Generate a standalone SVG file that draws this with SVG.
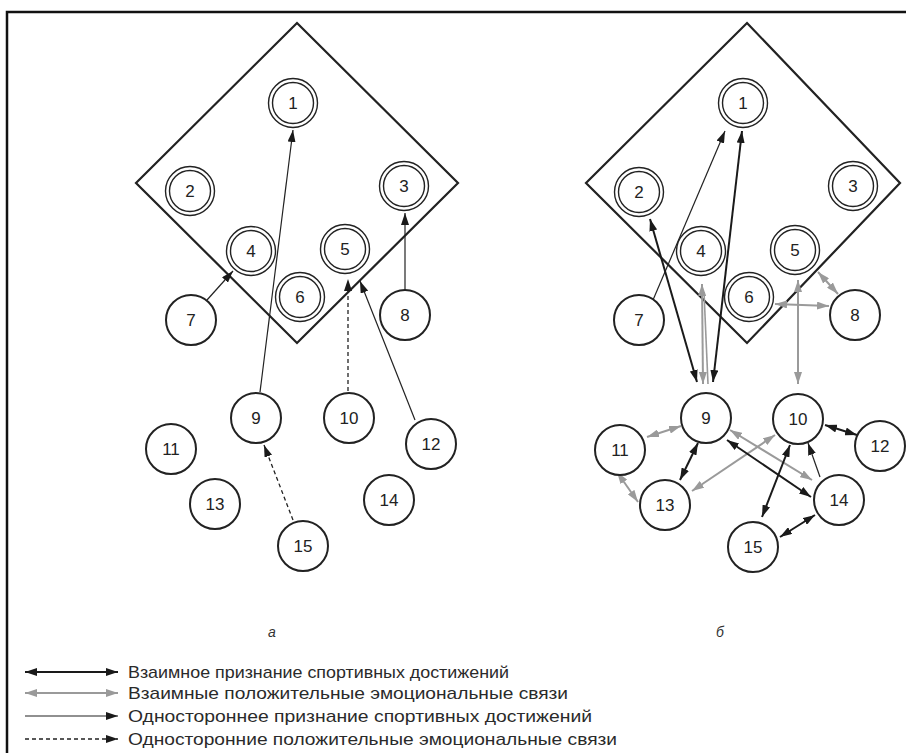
<svg xmlns="http://www.w3.org/2000/svg" width="906" height="753" viewBox="0 0 906 753">
<defs>
<style>
.frame{fill:none;stroke:#111;stroke-width:2.5}
.field{fill:none;stroke:#222;stroke-width:2.2}
.nd circle{fill:#fff;stroke:#222}
.single circle{stroke-width:2}
.dbl circle{stroke-width:1.4}
.nd text{font-family:"Liberation Sans",Arial,sans-serif;font-size:17px;fill:#222;text-anchor:middle}
.mb{stroke:#1a1a1a;stroke-width:2;fill:none;marker-start:url(#ab);marker-end:url(#ab)}
.mg{stroke:#9a9a9a;stroke-width:2;fill:none;marker-start:url(#ag);marker-end:url(#ag)}
.ob{stroke:#222;stroke-width:1.2;fill:none;marker-end:url(#ab)}
.od{stroke:#222;stroke-width:1.3;fill:none;stroke-dasharray:4 3;marker-end:url(#ab)}
.lg{font-family:"Liberation Sans",Arial,sans-serif;font-size:17px;fill:#2a2a2a}
.cap{font-family:"Liberation Sans",Arial,sans-serif;font-style:italic;font-size:14px;fill:#333;text-anchor:middle}
</style>
<marker id="ab" viewBox="0 0 12 8" refX="12" refY="4" markerWidth="12" markerHeight="8" markerUnits="userSpaceOnUse" orient="auto-start-reverse"><path d="M0,0 L12,4 L0,8 z" fill="#1a1a1a"/></marker>
<marker id="ag" viewBox="0 0 12 8" refX="12" refY="4" markerWidth="12" markerHeight="8" markerUnits="userSpaceOnUse" orient="auto-start-reverse"><path d="M0,0 L12,4 L0,8 z" fill="#9a9a9a"/></marker>
</defs>
<rect width="906" height="753" fill="#fff"/>
<rect class="frame" x="7" y="12" width="1000" height="1000"/>
<polygon class="field" points="297,23 458,183 297,343 136,183"/>
<polygon class="field" points="747,23 900,183 747,343 586,183"/>

<g id="connectors">
<line class="ob" x1="207" y1="300" x2="233" y2="271"/>
<line class="ob" x1="260" y1="392" x2="293" y2="130"/>
<line class="od" x1="348" y1="391" x2="348" y2="279"/>
<line class="ob" x1="415" y1="420" x2="360" y2="281"/>
<line class="ob" x1="405" y1="290" x2="405" y2="213"/>
<line class="od" x1="293" y1="520" x2="264" y2="445"/>

<line class="ob" x1="653" y1="300" x2="725" y2="131"/>
<line class="mb" x1="713" y1="382" x2="742" y2="131"/>
<line class="mb" x1="697" y1="382" x2="650" y2="219"/>
<line class="mg" x1="702" y1="284" x2="703" y2="384"/>
<line stroke="#9a9a9a" stroke-width="1.6" x1="704" y1="292" x2="708" y2="384"/>
<line class="mg" x1="798" y1="280" x2="798" y2="384"/>
<line class="mg" x1="818" y1="272" x2="838" y2="294"/>
<line class="mg" x1="775" y1="304" x2="829" y2="306"/>
<line class="mg" x1="647" y1="437" x2="681" y2="426"/>
<line class="mg" x1="617" y1="472" x2="638" y2="502"/>
<line class="mb" x1="698" y1="443" x2="680" y2="480"/>
<line class="mg" x1="775" y1="435" x2="692" y2="491"/>
<line class="mg" x1="730" y1="430" x2="812" y2="480"/>
<line class="mb" x1="727" y1="440" x2="811" y2="497"/>
<line class="mb" x1="825" y1="425" x2="857" y2="435"/>
<line class="mb" x1="790" y1="445" x2="762" y2="517"/>
<line class="ob" x1="820" y1="477" x2="808" y2="443"/>
<line class="mb" x1="815" y1="515" x2="780" y2="537"/>

<line class="mb" x1="25" y1="672" x2="118" y2="672"/>
<line class="mg" x1="25" y1="693" x2="118" y2="693"/>
<line class="ob" x1="25" y1="716" x2="118" y2="716"/>
<line class="od" x1="25" y1="739" x2="118" y2="739"/>
</g>

<g id="a1" class="nd dbl"><circle cx="293" cy="103" r="24.5"/><circle cx="293" cy="103" r="20.5"/><text x="293" y="109">1</text></g>
<g id="a2" class="nd dbl"><circle cx="190" cy="191" r="24.5"/><circle cx="190" cy="191" r="20.5"/><text x="190" y="197">2</text></g>
<g id="a3" class="nd dbl"><circle cx="404" cy="186" r="24.5"/><circle cx="404" cy="186" r="20.5"/><text x="404" y="192">3</text></g>
<g id="a4" class="nd dbl"><circle cx="251" cy="251" r="24.5"/><circle cx="251" cy="251" r="20.5"/><text x="251" y="257">4</text></g>
<g id="a5" class="nd dbl"><circle cx="345" cy="249" r="24.5"/><circle cx="345" cy="249" r="20.5"/><text x="345" y="255">5</text></g>
<g id="a6" class="nd dbl"><circle cx="300" cy="297" r="24.5"/><circle cx="300" cy="297" r="20.5"/><text x="300" y="303">6</text></g>
<g id="a7" class="nd single"><circle cx="191" cy="320" r="25"/><text x="191" y="326">7</text></g>
<g id="a8" class="nd single"><circle cx="405" cy="315" r="25"/><text x="405" y="321">8</text></g>
<g id="a9" class="nd single"><circle cx="256" cy="418" r="25"/><text x="256" y="424">9</text></g>
<g id="a10" class="nd single"><circle cx="349" cy="418" r="25"/><text x="349" y="424">10</text></g>
<g id="a11" class="nd single"><circle cx="171" cy="449" r="25"/><text x="171" y="455">11</text></g>
<g id="a12" class="nd single"><circle cx="431" cy="444" r="25"/><text x="431" y="450">12</text></g>
<g id="a13" class="nd single"><circle cx="215" cy="504" r="25"/><text x="215" y="510">13</text></g>
<g id="a14" class="nd single"><circle cx="389" cy="500" r="25"/><text x="389" y="506">14</text></g>
<g id="a15" class="nd single"><circle cx="303" cy="546" r="25"/><text x="303" y="552">15</text></g>

<g id="b1" class="nd dbl"><circle cx="743" cy="103" r="24.5"/><circle cx="743" cy="103" r="20.5"/><text x="743" y="109">1</text></g>
<g id="b2" class="nd dbl"><circle cx="639" cy="192" r="24.5"/><circle cx="639" cy="192" r="20.5"/><text x="639" y="198">2</text></g>
<g id="b3" class="nd dbl"><circle cx="853" cy="186" r="24.5"/><circle cx="853" cy="186" r="20.5"/><text x="853" y="192">3</text></g>
<g id="b4" class="nd dbl"><circle cx="701" cy="251" r="24.5"/><circle cx="701" cy="251" r="20.5"/><text x="701" y="257">4</text></g>
<g id="b5" class="nd dbl"><circle cx="795" cy="250" r="24.5"/><circle cx="795" cy="250" r="20.5"/><text x="795" y="256">5</text></g>
<g id="b6" class="nd dbl"><circle cx="749" cy="297" r="24.5"/><circle cx="749" cy="297" r="20.5"/><text x="749" y="303">6</text></g>
<g id="b7" class="nd single"><circle cx="639" cy="320" r="25"/><text x="639" y="326">7</text></g>
<g id="b8" class="nd single"><circle cx="855" cy="315" r="25"/><text x="855" y="321">8</text></g>
<g id="b9" class="nd single"><circle cx="706" cy="418" r="25"/><text x="706" y="424">9</text></g>
<g id="b10" class="nd single"><circle cx="798" cy="419" r="25"/><text x="798" y="425">10</text></g>
<g id="b11" class="nd single"><circle cx="620" cy="450" r="25"/><text x="620" y="456">11</text></g>
<g id="b12" class="nd single"><circle cx="880" cy="446" r="25"/><text x="880" y="452">12</text></g>
<g id="b13" class="nd single"><circle cx="665" cy="505" r="25"/><text x="665" y="511">13</text></g>
<g id="b14" class="nd single"><circle cx="839" cy="500" r="25"/><text x="839" y="506">14</text></g>
<g id="b15" class="nd single"><circle cx="753" cy="547" r="25"/><text x="753" y="553">15</text></g>

<text class="cap" x="272" y="637">а</text>
<text class="cap" x="720" y="637">б</text>

<g id="legend">
<text class="lg" x="128" y="678" textLength="381" lengthAdjust="spacingAndGlyphs">Взаимное признание спортивных достижений</text>
<text class="lg" x="128" y="699" textLength="440" lengthAdjust="spacingAndGlyphs">Взаимные положительные эмоциональные связи</text>
<text class="lg" x="128" y="722" textLength="464" lengthAdjust="spacingAndGlyphs">Одностороннее признание спортивных достижений</text>
<text class="lg" x="128" y="745" textLength="489" lengthAdjust="spacingAndGlyphs">Односторонние положительные эмоциональные связи</text>
</g>
</svg>
